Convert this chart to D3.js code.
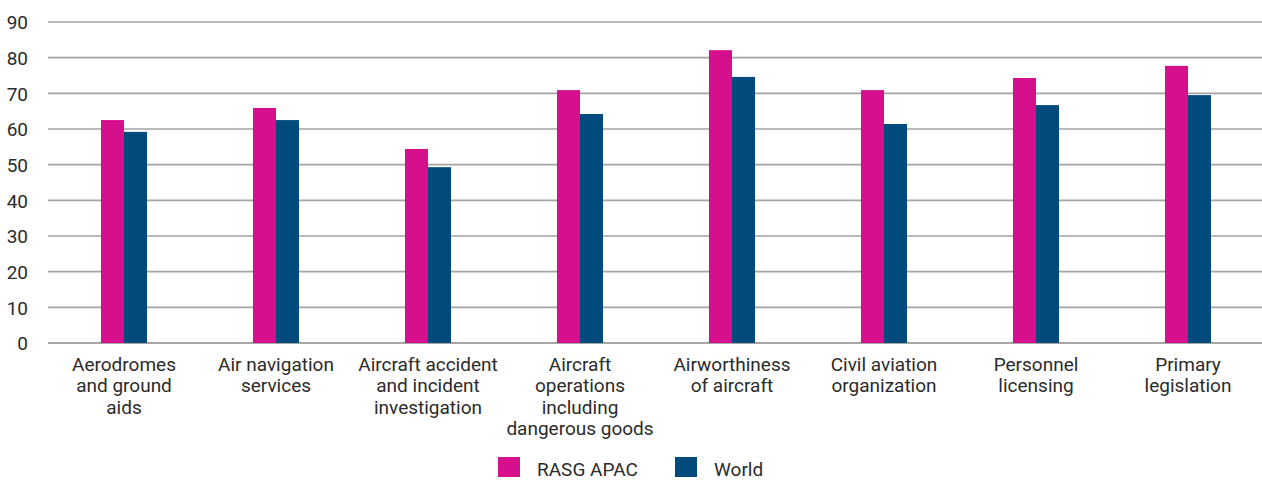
<!DOCTYPE html>
<html>
<head>
<meta charset="utf-8">
<script src="https://cdn.jsdelivr.net/npm/d3@7"></script>
<style>
  html, body { margin: 0; padding: 0; background: #fff; }
  svg { display: block; font-family: Roboto, "Noto Sans", sans-serif; }
</style>
</head>
<body>
<svg id="chart" width="1262" height="481"></svg>
<script>
// Implementation scores by audit area
const categories = [
  ["Aerodromes", "and ground", "aids"],
  ["Air navigation", "services"],
  ["Aircraft accident", "and incident", "investigation"],
  ["Aircraft", "operations", "including", "dangerous goods"],
  ["Airworthiness", "of aircraft"],
  ["Civil aviation", "organization"],
  ["Personnel", "licensing"],
  ["Primary", "legislation"]
];
const seriesNames = ["RASG APAC", "World"];
const rasgApac = [62.5, 65.9, 54.4, 70.9, 82.1, 70.9, 74.3, 77.7];
const world    = [59.2, 62.5, 49.3, 64.2, 74.6, 61.4, 66.7, 69.5];
const yTicks = [0, 10, 20, 30, 40, 50, 60, 70, 80, 90];
const colors = ["#d60f8c", "#004a7c"];

const svg = d3.select("#chart");
const plot = { left: 48, right: 1264, top: 22, bottom: 343 };

const x = d3.scaleBand()
  .domain(d3.range(categories.length))
  .range([plot.left, plot.right])
  .paddingInner(0.697)
  .paddingOuter(0.3485);

const xs = d3.scaleBand()
  .domain(seriesNames)
  .range([0, x.bandwidth()]);

const y = d3.scaleLinear().domain([0, 90]).range([plot.bottom, plot.top]);

// Horizontal gridlines
svg.append("g")
  .selectAll("line")
  .data(yTicks)
  .join("line")
  .attr("x1", plot.left).attr("x2", 1262)
  .attr("y1", d => y(d)).attr("y2", d => y(d))
  .attr("stroke", d => d === 0 ? "#8a8a8a" : "#a3a3a3")
  .attr("stroke-width", 1.6);

// Y axis labels
const yAxis = d3.axisLeft(y).tickValues(yTicks).tickSize(0).tickPadding(0);
const gy = svg.append("g").attr("transform", "translate(28,0)").call(yAxis);
gy.select(".domain").remove();
gy.selectAll("text")
  .attr("font-size", 19)
  .attr("fill", "#2b2b2b")
  .attr("font-family", "Roboto, sans-serif")
  .attr("dy", "0.36em");

// Bars
const data = [rasgApac, world];
const groups = svg.append("g")
  .selectAll("g")
  .data(categories.map((c, i) => i))
  .join("g")
  .attr("transform", i => `translate(${x(i)},0)`);

groups.selectAll("rect")
  .data(i => seriesNames.map((s, k) => ({ s, k, v: data[k][i] })))
  .join("rect")
  .attr("x", d => xs(d.s))
  .attr("width", xs.bandwidth())
  .attr("y", d => y(d.v))
  .attr("height", d => y(0) - y(d.v))
  .attr("fill", d => colors[d.k]);

// Category labels
const lab = svg.append("g")
  .selectAll("text")
  .data(categories)
  .join("text")
  .attr("x", (d, i) => x(i) + x.bandwidth() / 2)
  .attr("y", 371)
  .attr("text-anchor", "middle")
  .attr("font-size", 19)
  .attr("fill", "#2b2b2b");
lab.selectAll("tspan")
  .data(d => d)
  .join("tspan")
  .attr("x", function () { return d3.select(this.parentNode).attr("x"); })
  .attr("dy", (d, j) => j === 0 ? 0 : 21.3)
  .text(d => d);

// Legend
const legendX = [498, 675];
const leg = svg.append("g")
  .selectAll("g")
  .data(seriesNames)
  .join("g")
  .attr("transform", (d, i) => `translate(${legendX[i]},457)`);
leg.append("rect")
  .attr("width", 22).attr("height", 20)
  .attr("fill", (d, i) => colors[i]);
leg.append("text")
  .attr("x", 39).attr("y", 18.5)
  .attr("font-size", 19)
  .attr("fill", "#2b2b2b")
  .text(d => d);
</script>
</body>
</html>
